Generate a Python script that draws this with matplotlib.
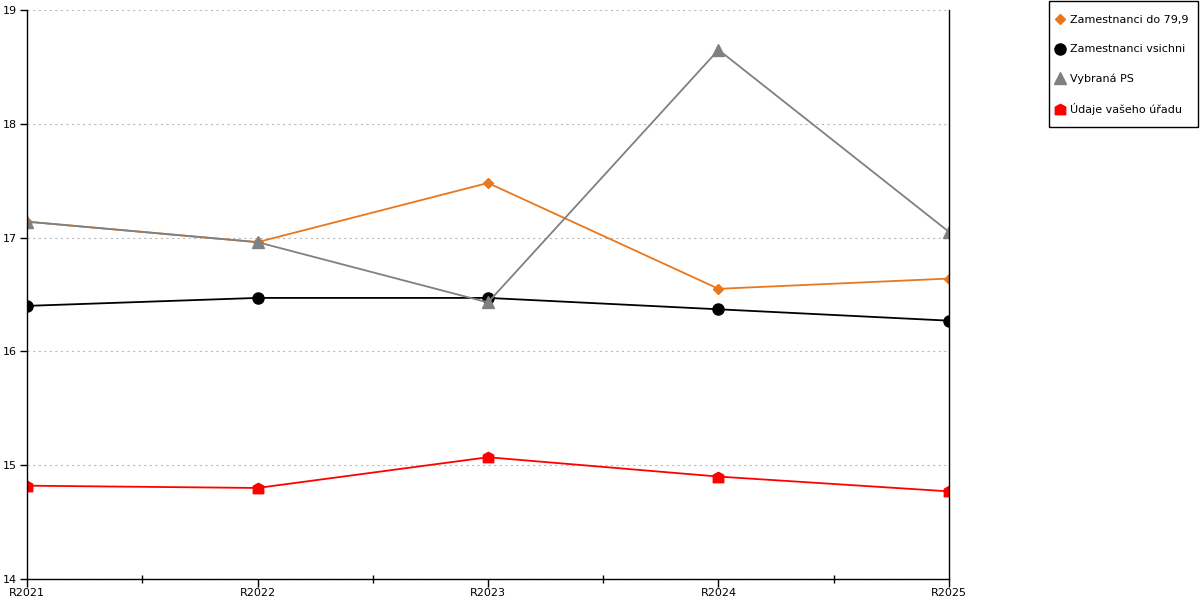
from matplotlib import pyplot as plt
from matplotlib.path import Path
from matplotlib.patches import Rectangle
from matplotlib.ticker import FixedLocator
import numpy as np

# hodnoty
years = ["R2021", "R2022", "R2023", "R2024", "R2025"]
zam_79 = [17.14, 16.96, 17.48, 16.55, 16.64]
zam_vsichni = [16.40, 16.47, 16.47, 16.37, 16.27]
vybrana_ps = [17.14, 16.96, 16.43, 18.65, 17.05]
udaje_uradu = [14.82, 14.80, 15.07, 14.90, 14.77]

# marker ve tvaru domečku
house = Path([(-1, -1), (1, -1), (1, 0.45), (0, 1), (-1, 0.45), (-1, -1)],
             [Path.MOVETO, Path.LINETO, Path.LINETO, Path.LINETO, Path.LINETO, Path.CLOSEPOLY])

plt.rcParams['font.family'] = ['DejaVu Sans']
plt.rcParams['font.size'] = 8

fig = plt.figure(figsize=(12, 6), dpi=100)
ax = fig.add_axes([27/1200, 21/600, (949-27)/1200, (579-10)/600])

x = np.arange(len(years))
ax.plot(x, zam_79, color='#E8771E', lw=1.3, marker='D', ms=5.5, label='Zamestnanci do 79,9')
ax.plot(x, zam_vsichni, color='black', lw=1.3, marker='o', ms=8, label='Zamestnanci vsichni')
ax.plot(x, vybrana_ps, color='#808080', lw=1.3, marker='^', ms=9, label='Vybraná PS')
ax.plot(x, udaje_uradu, color='#FF0000', lw=1.3, marker=house, ms=7.5, label='Údaje vašeho úřadu')

ax.set_xlim(0, len(years)-1)
ax.set_ylim(14, 19)
ax.set_xticks(x)
ax.set_xticklabels(years)
ax.xaxis.set_minor_locator(FixedLocator(x[:-1] + 0.5))
ax.set_yticks([14, 15, 16, 17, 18, 19])

ax.grid(axis='y', color='#BBBBBB', linestyle=(0, (2, 3)), lw=0.8)
ax.spines['top'].set_visible(False)
for s in ['left', 'bottom', 'right']:
    ax.spines[s].set_linewidth(1.0)
ax.tick_params(axis='x', which='major', direction='out', length=6, width=1, pad=0.5)
ax.tick_params(axis='x', which='minor', direction='inout', length=6, width=1)
ax.tick_params(axis='y', direction='out', length=5, width=1, pad=2)

# legenda bez rámečku, rámeček zvlášť
leg = fig.legend(loc='upper left', bbox_to_anchor=(1048/1200, 1 - 7/600), frameon=False,
                 handlelength=0.7, handletextpad=0.55, labelspacing=1.72, borderpad=0.75,
                 borderaxespad=0, fontsize=8, handleheight=0.7)
for line in leg.get_lines():
    line.set_linestyle('none')
fig.add_artist(Rectangle((1048.5/1200, 1 - 127/600), 149.5/1200, 126.5/600,
                         transform=fig.transFigure, fill=False, edgecolor='black', lw=1))

fig.savefig('out.png', dpi=100)
